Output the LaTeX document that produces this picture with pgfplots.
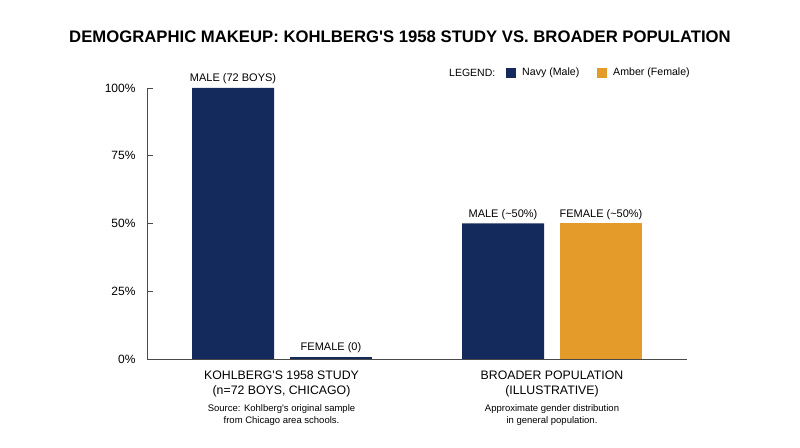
\documentclass[border=0pt]{standalone}
\usepackage{fontspec}
\setmainfont{Liberation Sans}
\usepackage{pgfplots}
\pgfplotsset{compat=1.18}

\definecolor{navy}{HTML}{152A5C}
\definecolor{amber}{HTML}{E59B2A}
\definecolor{axisgray}{HTML}{4A4A4A}

\begin{document}
\begin{tikzpicture}[x=1pt,y=1pt]
\path[use as bounding box] (0,0) rectangle (800,447);

% title
\node[font=\fontsize{16.7}{18}\selectfont\bfseries] at (400,410)
  {DEMOGRAPHIC MAKEUP: KOHLBERG\textquotesingle S 1958 STUDY VS. BROADER POPULATION};

% legend
\node[anchor=west, inner sep=0, font=\fontsize{10.5}{12}\selectfont] at (449,374) {LEGEND:};
\fill[navy] (506,369) rectangle (516,379);
\node[anchor=west, inner sep=0, font=\fontsize{10.6}{12}\selectfont] at (522,374) {Navy (Male)};
\fill[amber] (597,369) rectangle (607,379);
\node[anchor=west, inner sep=0, font=\fontsize{10.6}{12}\selectfont] at (613,374) {Amber (Female)};

\begin{axis}[
    at={(147pt,88pt)}, anchor=south west,
    scale only axis, width=540pt, height=271pt,
    xmin=-0.5, xmax=1.5, ymin=0, ymax=100,
    axis x line=bottom, axis y line=left,
    axis line style={-, axisgray, line width=0.9pt},
    xtick=\empty,
    ytick={0,25,50,75,100},
    yticklabel={\pgfmathprintnumber{\tick}\%},
    tick style={axisgray, line width=0.9pt},
    tick align=inside, major tick length=6pt,
    yticklabel style={font=\fontsize{12}{14}\selectfont, xshift=-8pt},
    /pgf/number format/assume math mode=true,
    ybar, bar width=82pt,
    clip=false,
    point meta=explicit symbolic,
    nodes near coords,
    every node near coord/.append style={font=\fontsize{11}{13}\selectfont, anchor=south, inner sep=2pt, yshift=2pt, text=black},
]
% Kohlberg male, broader male
\addplot[fill=navy, draw=none, bar shift=-49pt] coordinates {
    (0,100) [MALE (72 BOYS)]
    (1,50)  [MALE (\textasciitilde 50\%)]
};
% Kohlberg female (0)
\addplot[fill=navy, draw=none, bar shift=49pt] coordinates {
    (0,0.6) [FEMALE (0)]
};
% broader female
\addplot[fill=amber, draw=none, bar shift=49pt] coordinates {
    (1,50) [FEMALE (\textasciitilde 50\%)]
};
\end{axis}

% category labels
\begin{scope}[every node/.style={font=\fontsize{12.3}{14}\selectfont}]
\node at (281.5,72) {KOHLBERG\textquotesingle S 1958 STUDY};
\node at (281.5,56) {(n=72 BOYS, CHICAGO)};
\node at (552,72) {BROADER POPULATION};
\node at (552,56) {(ILLUSTRATIVE)};
\end{scope}
\begin{scope}[every node/.style={font=\fontsize{9.5}{11}\selectfont}]
\node at (281.5,38) {Source: Kohlberg\textquotesingle s original sample};
\node at (281.5,26) {from Chicago area schools.};
\node at (552,38) {Approximate gender distribution};
\node at (552,26) {in general population.};
\end{scope}
\end{tikzpicture}
\end{document}
